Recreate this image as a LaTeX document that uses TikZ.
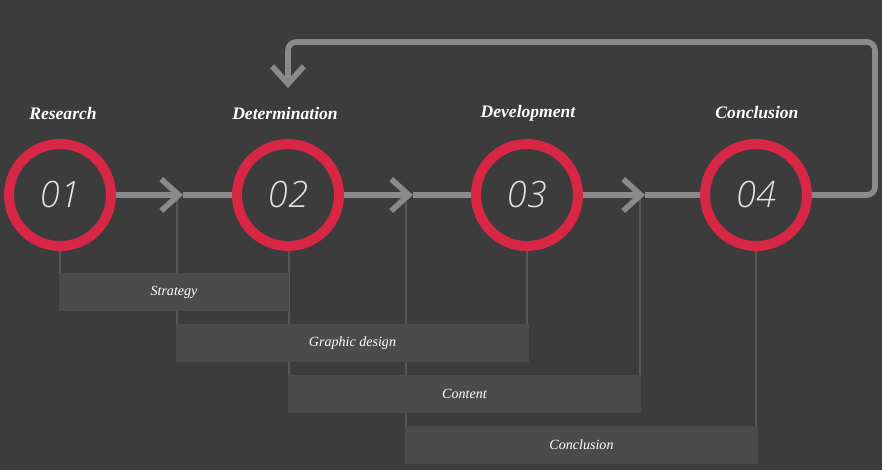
\documentclass[tikz,border=0pt]{standalone}
\usepackage{fontspec}
\setmainfont{Liberation Serif}
\newfontfamily\numfont{Open Sans Light}[ItalicFont={Open Sans Light Italic}]
\usetikzlibrary{arrows.meta}
\definecolor{bgcol}{HTML}{3C3C3C}
\definecolor{barcol}{HTML}{4B4B4B}
\definecolor{tickcol}{HTML}{575757}
\definecolor{linkcol}{HTML}{8A8A8A}
\definecolor{ringred}{HTML}{D72744}
\definecolor{numcol}{HTML}{E2E2E2}
\pgfdeclarelayer{bg}
\pgfdeclarelayer{ticks}
\pgfsetlayers{bg,ticks,main}
\begin{document}
\begin{tikzpicture}[x=0.03cm, y=-0.03cm,
  >={Straight Barb[length=15pt,width=27pt]},
  stage/.style={circle, draw=ringred, line width=8.5pt, fill=bgcol,
    minimum size=3.06cm, inner sep=0pt, text=numcol,
    font=\numfont\itshape\fontsize{31}{31}\selectfont},
  title/.style={text=white, font=\bfseries\itshape\fontsize{15}{15}\selectfont},
  bar/.style={fill=barcol, minimum height=1.14cm, inner sep=0pt,
    text=white, font=\itshape\fontsize{12}{12}\selectfont},
  link/.style={draw=linkcol, line width=4.8pt},
  tick/.style={draw=tickcol, line width=1.7pt}]
\begin{pgfonlayer}{bg}
\fill[bgcol] (0,0) rectangle (882,470);
\end{pgfonlayer}
% stages
\node[stage] (c1) at (60,195) {01};
\node[stage] (c2) at (288,195) {02};
\node[stage] (c3) at (527,195) {03};
\node[stage] (c4) at (756,195) {04};
\node[title] (t1) at (63,113) {Research};
\node[title] (t2) at (285,113) {Determination};
\node[title] (t3) at (528,113) {Development};
\node[title] (t4) at (757,113) {Conclusion};
% arrow tips between stages
\coordinate (m1) at (183,195);
\coordinate (m2) at (413,195);
\coordinate (m3) at (645,195);
\coordinate (s1) at (177,195);
\coordinate (s2) at (406,195);
\coordinate (s3) at (640,195);
\draw[link, ->] (c1) -- (m1);
\draw[link] (m1) -- (c2);
\draw[link, ->] (c2) -- (m2);
\draw[link] (m2) -- (c3);
\draw[link, ->] (c3) -- (m3);
\draw[link] (m3) -- (c4);
% loop back
\coordinate (loopR) at (875,42);
\coordinate (back) at (288,88);
\draw[link, rounded corners=7pt, ->] (c4.east) -| (loopR) -| (back);
% phases
\node[bar, minimum width=6.9cm] (b1) at (174,292) {Strategy};
\node[bar, minimum width=10.59cm] (b2) at (352.5,343) {Graphic design};
\node[bar, minimum width=10.59cm] (b3) at (464.5,394) {Content};
\node[bar, minimum width=10.59cm] (b4) at (581.5,445) {Conclusion};
\begin{pgfonlayer}{ticks}
\draw[tick] (c1.south) -- (c1 |- b1.north);
\draw[tick] (s1) -- (s1 |- b2.north);
\draw[tick] ([xshift=0.03cm]c2.south) -- ([xshift=0.03cm]c2 |- b3.north);
\draw[tick] (c3.south) -- (c3 |- b2.north);
\draw[tick] (s2) -- (s2 |- b4.north);
\draw[tick] (s3) -- (s3 |- b3.north);
\draw[tick] (c4.south) -- (c4 |- b4.north);
\end{pgfonlayer}
\end{tikzpicture}
\end{document}
